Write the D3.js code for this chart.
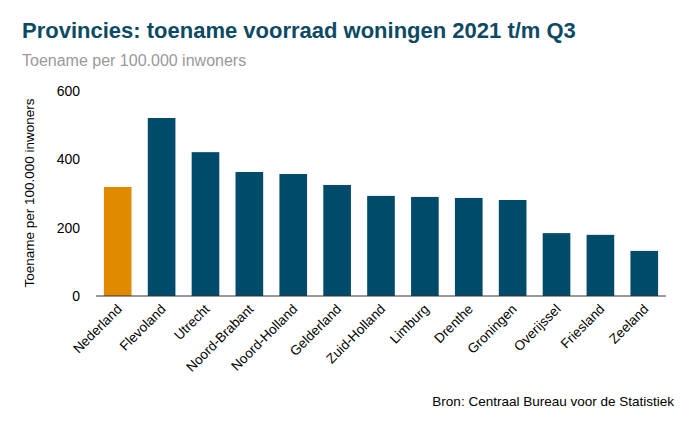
<!DOCTYPE html>
<html><head><meta charset="utf-8">
<script src="https://cdn.jsdelivr.net/npm/d3@7"></script>
<style>body{margin:0;background:#fff;font-family:"Liberation Sans",Arial,sans-serif}</style>
</head><body><div id="chart"></div>
<script>
var categories = ["Nederland","Flevoland","Utrecht","Noord-Brabant","Noord-Holland","Gelderland","Zuid-Holland","Limburg","Drenthe","Groningen","Overijssel","Friesland","Zeeland"];
var values = [319, 521, 421, 363, 357, 325, 293, 290, 287, 281, 184, 179, 132];
var yTicks = [0, 200, 400, 600];

var width = 694, height = 429;
var svg = d3.select("#chart").append("svg").attr("width", width).attr("height", height);

svg.append("text").attr("x", 22).attr("y", 38)
  .attr("font-size", 22).attr("font-weight", "bold").attr("fill", "#0c4a63")
  .text("Provincies: toename voorraad woningen 2021 t/m Q3");
svg.append("text").attr("x", 22).attr("y", 66)
  .attr("font-size", 16).attr("fill", "#999")
  .text("Toename per 100.000 inwoners");

var x = d3.scaleBand().domain(categories).range([96, 666]).paddingInner(0.37).paddingOuter(0.18);
var y = d3.scaleLinear().domain([0, 600]).range([296, 91]);

var g = svg.append("g").attr("transform", "translate(96,0)");
g.call(d3.axisLeft(y).tickValues(yTicks).tickSize(0).tickPadding(16));
g.select(".domain").remove();
g.selectAll("text").attr("font-size", 14).attr("fill", "#000").attr("font-family", "Liberation Sans, Arial, sans-serif");

svg.selectAll("rect.bar").data(values).enter().append("rect")
  .attr("x", function(d, i) { return x(categories[i]); })
  .attr("y", function(d) { return y(d); })
  .attr("width", x.bandwidth())
  .attr("height", function(d) { return y(0) - y(d); })
  .attr("fill", function(d, i) { return i === 0 ? "#e08a00" : "#004b6a"; });

svg.append("line").attr("x1", 96).attr("x2", 666).attr("y1", y(0)).attr("y2", y(0)).attr("stroke", "#333");

svg.selectAll("text.cat").data(categories).enter().append("text")
  .attr("font-size", 13.5)
  .attr("text-anchor", "end")
  .attr("transform", function(d) { return "translate(" + (x(d) + x.bandwidth() / 2 + 5) + ",310) rotate(-45)"; })
  .text(function(d) { return d; });

svg.append("text").attr("transform", "translate(34,193) rotate(-90)")
  .attr("text-anchor", "middle").attr("font-size", 13.5).text("Toename per 100.000 inwoners");

svg.append("text").attr("x", 674).attr("y", 406).attr("text-anchor", "end")
  .attr("font-size", 13.5).text("Bron: Centraal Bureau voor de Statistiek");
</script></body></html>
